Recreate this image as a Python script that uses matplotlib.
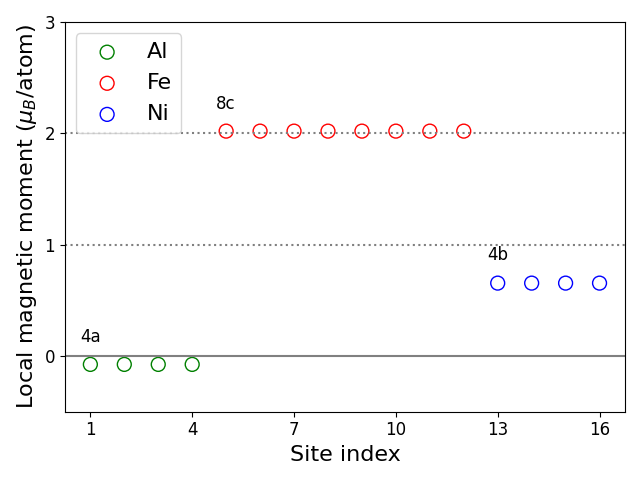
import numpy as np
from matplotlib import pyplot as plt

al_sites = [1, 2, 3, 4]
al_moments = [-0.075, -0.075, -0.075, -0.075]
fe_sites = [5, 6, 7, 8, 9, 10, 11, 12]
fe_moments = [2.02, 2.02, 2.02, 2.02, 2.02, 2.02, 2.02, 2.02]
ni_sites = [13, 14, 15, 16]
ni_moments = [0.655, 0.655, 0.655, 0.655]

fig, ax = plt.subplots(figsize=(6.4, 4.8))

ax.axhline(0, color='gray', lw=1.5)
ax.axhline(1, color='gray', ls=':', lw=1.5)
ax.axhline(2, color='gray', ls=':', lw=1.5)

ax.scatter(al_sites, al_moments, s=100, facecolors='none', edgecolors='green', label='Al')
ax.scatter(fe_sites, fe_moments, s=100, facecolors='none', edgecolors='red', label='Fe')
ax.scatter(ni_sites, ni_moments, s=100, facecolors='none', edgecolors='blue', label='Ni')

ax.text(0.7, 0.13, '4a', fontsize=12)
ax.text(4.7, 2.22, '8c', fontsize=12)
ax.text(12.7, 0.86, '4b', fontsize=12)

ax.set_xlim(0.25, 16.75)
ax.set_ylim(-0.5, 3)
ax.set_xticks([1, 4, 7, 10, 13, 16])
ax.set_yticks([0, 1, 2, 3])
ax.tick_params(labelsize=12)
ax.set_xlabel('Site index', fontsize=16)
ax.set_ylabel(r'Local magnetic moment ($\mu_B$/atom)', fontsize=16)
ax.legend(fontsize=16, loc='upper left')

plt.tight_layout()
plt.savefig('out.png', dpi=100)
